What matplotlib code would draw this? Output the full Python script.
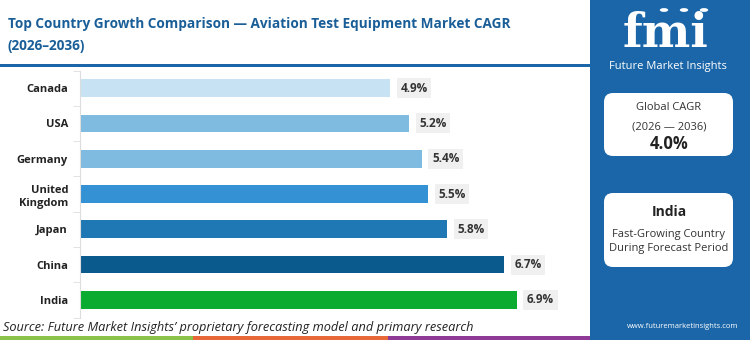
import matplotlib.pyplot as plt
from matplotlib.patches import FancyBboxPatch, Rectangle, Circle

countries = ["Canada", "USA", "Germany", "United\nKingdom", "Japan", "China", "India"]
cagr = [4.9, 5.2, 5.4, 5.5, 5.8, 6.7, 6.9]
bar_colors = ["#c6e2f3", "#7fbbe0", "#7fbbe0", "#3391d4", "#1f77b4", "#0b5a8e", "#0aab2f"]
global_cagr = "4.0%"
lead_country = "India"

plt.rcParams["font.family"] = ["Open Sans", "DejaVu Sans"]

W, H = 750, 340
fig = plt.figure(figsize=(7.5, 3.4), dpi=100)
fig.patch.set_facecolor("white")


def fx(px):
    return px / W


def fy(py):
    return 1 - py / H


# right blue panel
fig.patches.append(Rectangle((fx(590), 0), fx(160), 1, transform=fig.transFigure,
                             facecolor="#1a66a8", edgecolor="none", zorder=0))
# header rule
fig.patches.append(Rectangle((0, fy(67)), fx(590), 3 / H, transform=fig.transFigure,
                             facecolor="#1a66a8", edgecolor="none"))
# bottom stripe
for x0, x1, c in [(0, 193, "#8bc34a"), (193, 388, "#e8683a"), (388, 590, "#8e3a96")]:
    fig.patches.append(Rectangle((fx(x0), 0), fx(x1 - x0), 4 / H, transform=fig.transFigure,
                                 facecolor=c, edgecolor="none"))

fig.text(fx(8), fy(24), "Top Country Growth Comparison \u2014 Aviation Test Equipment Market CAGR",
         color="#1a5e98", fontsize=9.8, fontweight="bold", va="center", ha="left")
fig.text(fx(8), fy(46), "(2026\u20132036)",
         color="#1a5e98", fontsize=9.8, fontweight="bold", va="center", ha="left")

# bar chart
ax = fig.add_axes([fx(80), fy(317.5), fx(500), (317.5 - 70.5) / H])
y = list(range(len(countries)))
ax.barh(y, cagr, color=bar_colors, height=0.5)
ax.set_ylim(len(countries) - 0.5, -0.5)
ax.set_xlim(0, 500 / 63.3)
ax.set_yticks(y)
ax.set_yticklabels(countries, fontsize=8, fontweight="bold", color="#222222", linespacing=1.3)
ax.set_yticks([i + 0.5 for i in range(-1, len(countries))], minor=True)
ax.tick_params(axis="y", which="major", length=0, pad=8.6)
ax.tick_params(axis="y", which="minor", length=5, color="#dddddd")
ax.set_xticks([])
for s in ["top", "right", "bottom"]:
    ax.spines[s].set_visible(False)
ax.spines["left"].set_color("#dddddd")
for yi, v in zip(y, cagr):
    ax.text(v + 0.16, yi, f"{v}%", va="center", ha="left", fontsize=8.5, fontweight="bold",
            color="#333333", bbox=dict(boxstyle="square,pad=0.3", facecolor="#f0f0f0", edgecolor="none"))

fig.text(fx(3), fy(327), "Source: Future Market Insights\u2019 proprietary forecasting model and primary research",
         fontsize=9.2, style="italic", color="#222222", va="center", ha="left")

# logo
fig.text(fx(666), fy(34), "fmi", color="white", fontsize=33, fontweight="bold", ha="center", va="center",
         family=["DejaVu Serif"])
for cx in (664, 684, 704):
    fig.patches.append(Circle((fx(cx), fy(10)), 4.2 / W, transform=fig.transFigure,
                              facecolor="white", edgecolor="none"))
fig.text(fx(668), fy(67), "Future Market Insights", color="white", fontsize=8, ha="center", va="center")

# info boxes
for (y0, y1) in [(93, 156), (193, 267)]:
    fig.patches.append(FancyBboxPatch((fx(604), fy(y1)), fx(129), (y1 - y0) / H,
                                      boxstyle="round,pad=0,rounding_size=0.012",
                                      transform=fig.transFigure, facecolor="white", edgecolor="none",
                                      mutation_aspect=W / H))
fig.text(fx(669), fy(108), "Global CAGR", fontsize=8, color="#333333", ha="center", va="center")
fig.text(fx(669), fy(127), "(2026 \u2014 2036)", fontsize=8, color="#333333", ha="center", va="center")
fig.text(fx(669), fy(144), global_cagr, fontsize=12, fontweight="bold", color="#222222", ha="center", va="center")
fig.text(fx(669), fy(212), lead_country, fontsize=10, fontweight="bold", color="#222222", ha="center", va="center")
fig.text(fx(669), fy(234), "Fast-Growing Country", fontsize=8, color="#333333", ha="center", va="center")
fig.text(fx(669), fy(249), "During Forecast Period", fontsize=8, color="#333333", ha="center", va="center")

fig.text(fx(683), fy(327), "www.futuremarketinsights.com", fontsize=5.5, color="white", ha="center", va="center")

fig.savefig("out.png", dpi=100, facecolor="white")
